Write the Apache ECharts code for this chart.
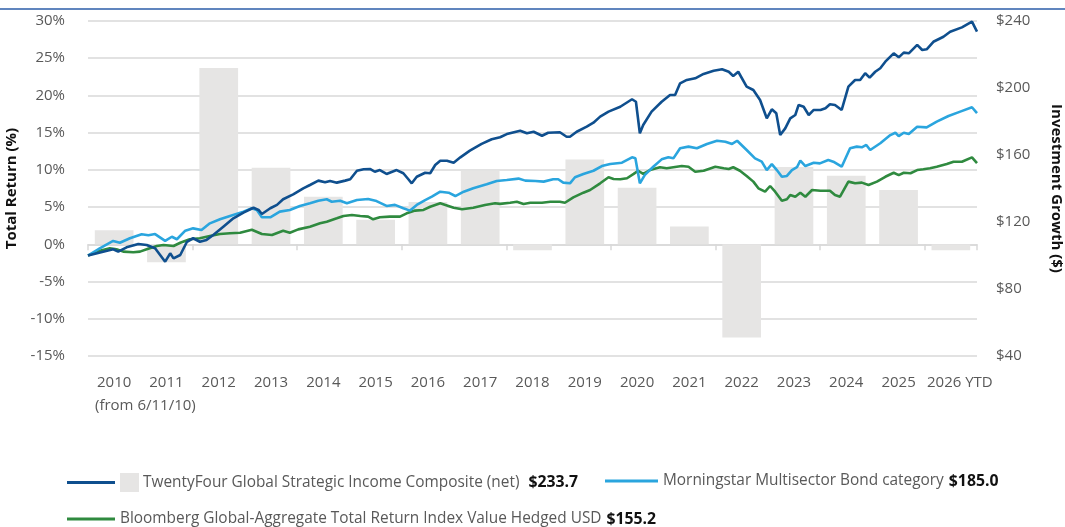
<!DOCTYPE html>
<html>
<head>
<meta charset="utf-8">
<script src="https://cdn.jsdelivr.net/npm/echarts@6/dist/echarts.min.js"></script>
<style>
  html, body { margin: 0; padding: 0; background: #fff; }
  #chart { width: 1065px; height: 527px; }
</style>
</head>
<body>
<div id="chart"></div>
<script>
var categories = ['2010', '2011', '2012', '2013', '2014', '2015', '2016', '2017', '2018',
  '2019', '2020', '2021', '2022', '2023', '2024', '2025', '2026 YTD'];
var annualReturns = [1.9, -2.4, 23.7, 10.3, 6.4, 3.3, 5.7, 9.9, -0.8, 11.4, 7.6, 2.4, -12.5, 10.4, 9.2, 7.3, -0.8];

var compositeYears = [2010.44, 2010.89, 2010.98, 2011.13, 2011.34, 2011.49, 2011.64, 2011.73, 2011.82, 2011.91,
  2011.97, 2012.09, 2012.21, 2012.32, 2012.44, 2012.56, 2012.68, 2012.86, 2013.04, 2013.22, 2013.40, 2013.49,
  2013.55, 2013.70, 2013.82, 2013.93, 2014.11, 2014.29, 2014.41, 2014.56, 2014.68, 2014.77, 2014.89, 2015.04,
  2015.13, 2015.25, 2015.37, 2015.49, 2015.57, 2015.66, 2015.78, 2015.96, 2016.08, 2016.17, 2016.23, 2016.32,
  2016.47, 2016.56, 2016.65, 2016.74, 2016.86, 2016.98, 2017.10, 2017.27, 2017.48, 2017.66, 2017.81, 2017.93,
  2018.17, 2018.29, 2018.41, 2018.56, 2018.67, 2018.88, 2019.00, 2019.06, 2019.18, 2019.36, 2019.48, 2019.60,
  2019.75, 2019.96, 2020.17, 2020.24, 2020.31, 2020.37, 2020.52, 2020.70, 2020.85, 2020.94, 2021.03, 2021.15,
  2021.30, 2021.45, 2021.63, 2021.78, 2021.90, 2021.98, 2022.07, 2022.22, 2022.34, 2022.46, 2022.58, 2022.67,
  2022.75, 2022.82, 2022.91, 2023.00, 2023.09, 2023.15, 2023.24, 2023.33, 2023.42, 2023.54, 2023.63, 2023.71,
  2023.80, 2023.92, 2024.04, 2024.16, 2024.25, 2024.34, 2024.42, 2024.52, 2024.61, 2024.70, 2024.85, 2024.94,
  2025.03, 2025.12, 2025.27, 2025.36, 2025.44, 2025.56, 2025.74, 2025.86, 2026.07, 2026.25, 2026.34];
var compositeValues = [100.0, 103.7, 102.3, 104.9, 106.9, 106.3, 104.3, 100.3, 96.3, 101.3,
  98.3, 100.3, 108.2, 110.3, 108.2, 109.3, 112.2, 117.2, 122.2, 125.6, 128.5, 127.2,
  124.8, 128.2, 130.2, 133.6, 136.5, 140.1, 142.1, 144.7, 143.7, 144.5, 143.5, 144.7,
  145.5, 150.6, 151.5, 151.6, 150.0, 151.0, 148.7, 151.0, 149.1, 145.5, 143.1, 147.0,
  149.4, 149.1, 154.0, 156.6, 156.6, 155.4, 158.6, 162.6, 166.6, 169.4, 170.6, 172.5,
  174.5, 173.0, 173.9, 171.5, 173.3, 173.6, 170.9, 170.9, 173.9, 176.9, 179.3, 182.9,
  185.9, 188.8, 193.3, 191.8, 173.0, 177.9, 185.9, 191.8, 195.8, 195.8, 202.8, 204.8,
  205.8, 208.4, 210.3, 211.2, 209.7, 207.2, 209.7, 200.8, 198.8, 192.8, 181.9, 187.3,
  184.9, 171.9, 175.9, 181.9, 183.9, 189.9, 188.8, 183.9, 186.9, 186.9, 187.9, 190.3,
  189.9, 186.9, 200.8, 204.8, 204.8, 208.8, 206.2, 209.7, 211.8, 215.7, 220.7, 218.3,
  221.1, 220.7, 225.7, 222.7, 223.1, 227.6, 230.6, 233.6, 236.2, 239.6, 233.7];

var morningstarYears = [2010.44, 2010.65, 2010.89, 2011.01, 2011.19, 2011.40, 2011.52, 2011.64, 2011.82, 2011.94,
  2012.03, 2012.18, 2012.32, 2012.47, 2012.62, 2012.80, 2012.98, 2013.22, 2013.37, 2013.46, 2013.55, 2013.70,
  2013.87, 2014.05, 2014.23, 2014.41, 2014.56, 2014.71, 2014.80, 2014.95, 2015.07, 2015.25, 2015.45, 2015.60,
  2015.78, 2015.93, 2016.08, 2016.20, 2016.32, 2016.47, 2016.59, 2016.74, 2016.89, 2017.01, 2017.16, 2017.33,
  2017.57, 2017.75, 2017.93, 2018.14, 2018.26, 2018.44, 2018.59, 2018.76, 2018.85, 2018.94, 2019.06, 2019.15,
  2019.30, 2019.48, 2019.63, 2019.78, 2019.99, 2020.17, 2020.23, 2020.31, 2020.40, 2020.55, 2020.70, 2020.82,
  2020.91, 2021.03, 2021.18, 2021.33, 2021.51, 2021.69, 2021.84, 2021.96, 2022.05, 2022.22, 2022.37, 2022.49,
  2022.58, 2022.67, 2022.76, 2022.85, 2022.94, 2023.03, 2023.12, 2023.18, 2023.27, 2023.42, 2023.53, 2023.68,
  2023.77, 2023.92, 2024.07, 2024.19, 2024.28, 2024.36, 2024.43, 2024.61, 2024.79, 2024.88, 2024.94, 2025.03,
  2025.12, 2025.27, 2025.44, 2025.62, 2025.83, 2026.04, 2026.25, 2026.34];
var morningstarValues = [100.0, 104.3, 108.7, 107.6, 110.3, 112.7, 112.1, 112.8, 108.7, 111.2,
  109.7, 114.8, 116.2, 115.2, 119.2, 121.6, 123.6, 126.2, 128.2, 127.2, 122.8, 122.8,
  126.2, 127.2, 129.6, 131.2, 132.7, 133.6, 132.1, 132.7, 131.2, 133.1, 133.7, 132.5,
  129.6, 130.2, 128.2, 126.8, 130.2, 133.1, 135.1, 138.1, 137.5, 135.5, 138.1, 140.1,
  142.5, 144.5, 145.1, 145.9, 144.7, 144.5, 144.1, 145.5, 145.5, 143.5, 143.1, 146.7,
  148.7, 150.6, 153.4, 154.6, 155.4, 158.6, 158.0, 143.1, 148.1, 153.0, 157.4, 158.6,
  158.0, 164.0, 165.0, 164.0, 166.6, 168.5, 167.9, 166.6, 168.5, 163.0, 158.0, 156.0,
  151.0, 154.6, 151.0, 147.0, 147.5, 151.0, 152.7, 156.6, 153.4, 155.4, 155.0, 157.0,
  156.0, 153.0, 164.0, 165.0, 164.6, 166.0, 163.0, 167.0, 171.9, 173.3, 171.3, 173.3,
  172.5, 176.9, 176.5, 179.9, 183.3, 185.9, 188.5, 185.0];

var bloombergYears = [2010.44, 2010.65, 2010.83, 2010.95, 2011.07, 2011.25, 2011.37, 2011.49, 2011.67, 2011.79,
  2011.97, 2012.09, 2012.26, 2012.44, 2012.62, 2012.80, 2012.98, 2013.16, 2013.37, 2013.55, 2013.73, 2013.93,
  2014.05, 2014.20, 2014.41, 2014.59, 2014.71, 2014.89, 2015.01, 2015.16, 2015.31, 2015.45, 2015.54, 2015.66,
  2015.84, 2016.02, 2016.14, 2016.29, 2016.44, 2016.56, 2016.74, 2016.98, 2017.13, 2017.33, 2017.54, 2017.72,
  2017.81, 2017.99, 2018.11, 2018.23, 2018.35, 2018.56, 2018.71, 2018.88, 2018.97, 2019.12, 2019.30, 2019.42,
  2019.60, 2019.75, 2019.84, 2019.96, 2020.08, 2020.20, 2020.28, 2020.37, 2020.49, 2020.67, 2020.79, 2020.91,
  2021.06, 2021.18, 2021.30, 2021.45, 2021.66, 2021.81, 2021.90, 2021.98, 2022.10, 2022.22, 2022.34, 2022.43,
  2022.55, 2022.64, 2022.73, 2022.85, 2022.94, 2023.00, 2023.09, 2023.18, 2023.27, 2023.39, 2023.54, 2023.71,
  2023.80, 2023.89, 2024.04, 2024.16, 2024.28, 2024.40, 2024.55, 2024.70, 2024.85, 2024.94, 2025.03, 2025.15,
  2025.27, 2025.38, 2025.50, 2025.62, 2025.80, 2025.92, 2026.07, 2026.25, 2026.34];
var bloombergValues = [100.0, 102.9, 104.3, 103.7, 102.3, 101.9, 102.3, 103.7, 105.7, 106.3,
  105.7, 107.6, 109.7, 110.3, 111.6, 112.8, 113.3, 113.6, 115.4, 112.8, 112.2, 114.8,
  113.6, 115.6, 117.2, 119.2, 120.2, 122.2, 123.6, 124.2, 123.6, 123.2, 121.6, 122.8,
  123.2, 123.2, 125.2, 126.8, 127.2, 129.1, 131.2, 128.5, 127.6, 128.5, 130.2, 131.2,
  130.8, 131.5, 132.1, 130.8, 131.5, 131.5, 132.1, 132.1, 131.5, 134.7, 137.5, 139.1,
  143.1, 146.7, 145.7, 145.5, 146.1, 148.7, 150.6, 148.7, 151.0, 152.7, 152.1, 152.7,
  153.4, 153.0, 150.0, 150.6, 153.0, 152.1, 151.6, 152.7, 150.6, 147.5, 144.1, 140.1,
  138.1, 141.5, 138.1, 132.7, 133.6, 136.1, 135.1, 137.5, 135.1, 139.1, 138.7, 138.7,
  136.1, 135.1, 144.1, 143.1, 143.5, 142.1, 144.1, 147.0, 149.4, 148.0, 149.4, 149.1,
  151.0, 151.5, 152.1, 153.0, 154.6, 156.0, 156.0, 158.6, 155.2];

var returnTicks = { min: -15, max: 30, interval: 5 };
var growthTicks = { min: 40, max: 240, interval: 40 };

var compositeName = 'TwentyFour Global Strategic Income Composite (net)';
var morningstarName = 'Morningstar Multisector Bond category';
var bloombergName = 'Bloomberg Global-Aggregate Total Return Index Value Hedged USD';
var finalValues = { composite: '$233.7', morningstar: '$185.0', bloomberg: '$155.2' };

function pairs(xs, ys) {
  var out = [];
  for (var i = 0; i < Math.min(xs.length, ys.length); i++) out.push([xs[i], ys[i]]);
  return out;
}

var font = '"Open Sans", "Noto Sans", sans-serif';
var labelColor = '#595959';
var darkBlue = '#0f4f8e';
var lightBlue = '#2aa5de';
var green = '#2f8a3f';
var barGrey = '#e6e5e4';
var gridGrey = '#d9d9d9';
var fs = 15;
var legendFs = 15.4;

// the last label ("2026 YTD") sits a little right of its slot in the original
var labelCategories = categories.map(function(c, i) {
  return i === categories.length - 1 ? { value: c, textStyle: { padding: [0, 0, 0, 18] } } : c;
});

var chart = echarts.init(document.getElementById('chart'), null, { renderer: 'canvas' });

var legendBase = {
  icon: 'rect',
  itemWidth: 53,
  itemHeight: 3,
  selectedMode: false,
  textStyle: {
    fontFamily: font,
    fontSize: legendFs,
    color: labelColor,
    rich: {
      sq: { width: 19, height: 19, backgroundColor: barGrey },
      sp2: { width: 4 },
      sp3: { width: 9 },
      sp4: { width: 5 },
      v: { fontFamily: font, fontSize: 15.8, fontWeight: 'bold', color: '#111' }
    }
  }
};

chart.setOption({
  animation: false,
  backgroundColor: '#fff',
  textStyle: { fontFamily: font },
  grid: { left: 88, right: 88, top: 21, bottom: 171, outerBoundsMode: 'none', containLabel: false },
  legend: [
    Object.assign({}, legendBase, {
      left: 62, top: 468, itemWidth: 48, data: [compositeName],
      formatter: function(n) { return '{sq| }{sp2| }' + n + '{sp3| }{v|' + finalValues.composite + '}'; }
    }),
    Object.assign({}, legendBase, {
      left: 600, top: 468, data: [morningstarName],
      formatter: function(n) { return n + '{sp4| }{v|' + finalValues.morningstar + '}'; }
    }),
    Object.assign({}, legendBase, {
      left: 62, top: 506, itemWidth: 48, data: [bloombergName],
      formatter: function(n) { return n + '{sp4| }{v|' + finalValues.bloomberg + '}'; }
    })
  ],
  xAxis: [
    {
      // zero line with ticks at the year boundaries
      type: 'category',
      data: categories,
      position: 'bottom',
      axisLine: { show: true, onZero: true, lineStyle: { color: gridGrey, width: 1.5 } },
      axisTick: { show: true, length: 6, lineStyle: { color: gridGrey, width: 1.5 } },
      axisLabel: { show: false },
      splitLine: { show: false }
    },
    {
      type: 'category',
      data: labelCategories,
      position: 'bottom',
      axisLine: { show: false, onZero: false },
      axisTick: { show: false },
      axisLabel: { interval: 0, color: labelColor, fontSize: fs, fontFamily: font, margin: 19 },
      splitLine: { show: false }
    },
    {
      type: 'value',
      min: compositeYears[0],
      max: compositeYears[compositeYears.length - 1],
      show: false
    }
  ],
  yAxis: [
    {
      type: 'value',
      min: returnTicks.min,
      max: returnTicks.max,
      interval: returnTicks.interval,
      name: 'Total Return (%)',
      nameLocation: 'middle',
      nameGap: 56,
      nameTextStyle: { fontFamily: font, fontSize: fs, fontWeight: 'bold', color: '#111' },
      axisLine: { show: false },
      axisTick: { show: false },
      axisLabel: { formatter: '{value}%', color: labelColor, fontSize: fs, fontFamily: font, margin: 23 },
      splitLine: { lineStyle: { color: gridGrey, width: 1.5 } }
    },
    {
      type: 'value',
      min: growthTicks.min,
      max: growthTicks.max,
      interval: growthTicks.interval,
      position: 'right',
      name: 'Investment Growth ($)',
      nameLocation: 'middle',
      nameRotate: -90,
      nameGap: 72,
      nameTextStyle: { fontFamily: font, fontSize: fs, fontWeight: 'bold', color: '#111' },
      axisLine: { show: false },
      axisTick: { show: false },
      axisLabel: { formatter: '${value}', color: labelColor, fontSize: fs, fontFamily: font, margin: 19 },
      splitLine: { show: false }
    }
  ],
  series: [
    {
      name: 'Annual return',
      type: 'bar',
      xAxisIndex: 0,
      yAxisIndex: 0,
      data: annualReturns,
      barWidth: '74%',
      itemStyle: { color: barGrey },
      z: 1
    },
    {
      name: compositeName,
      type: 'line',
      xAxisIndex: 2,
      yAxisIndex: 1,
      data: pairs(compositeYears, compositeValues),
      showSymbol: false,
      symbol: 'none',
      lineStyle: { color: darkBlue, width: 2.6 },
      itemStyle: { color: darkBlue },
      z: 5
    },
    {
      name: morningstarName,
      type: 'line',
      xAxisIndex: 2,
      yAxisIndex: 1,
      data: pairs(morningstarYears, morningstarValues),
      showSymbol: false,
      symbol: 'none',
      lineStyle: { color: lightBlue, width: 2.6 },
      itemStyle: { color: lightBlue },
      z: 4
    },
    {
      name: bloombergName,
      type: 'line',
      xAxisIndex: 2,
      yAxisIndex: 1,
      data: pairs(bloombergYears, bloombergValues),
      showSymbol: false,
      symbol: 'none',
      lineStyle: { color: green, width: 2.6 },
      itemStyle: { color: green },
      z: 3
    }
  ],
  graphic: [
    {
      type: 'line',
      shape: { x1: 0, y1: 9, x2: 1065, y2: 9 },
      style: { stroke: '#2b5ca8', lineWidth: 1.5 }
    },
    {
      type: 'text',
      left: 95,
      top: 398,
      style: { text: '(from 6/11/10)', fill: labelColor, font: fs + 'px ' + font }
    }
  ]
});
</script>
</body>
</html>
